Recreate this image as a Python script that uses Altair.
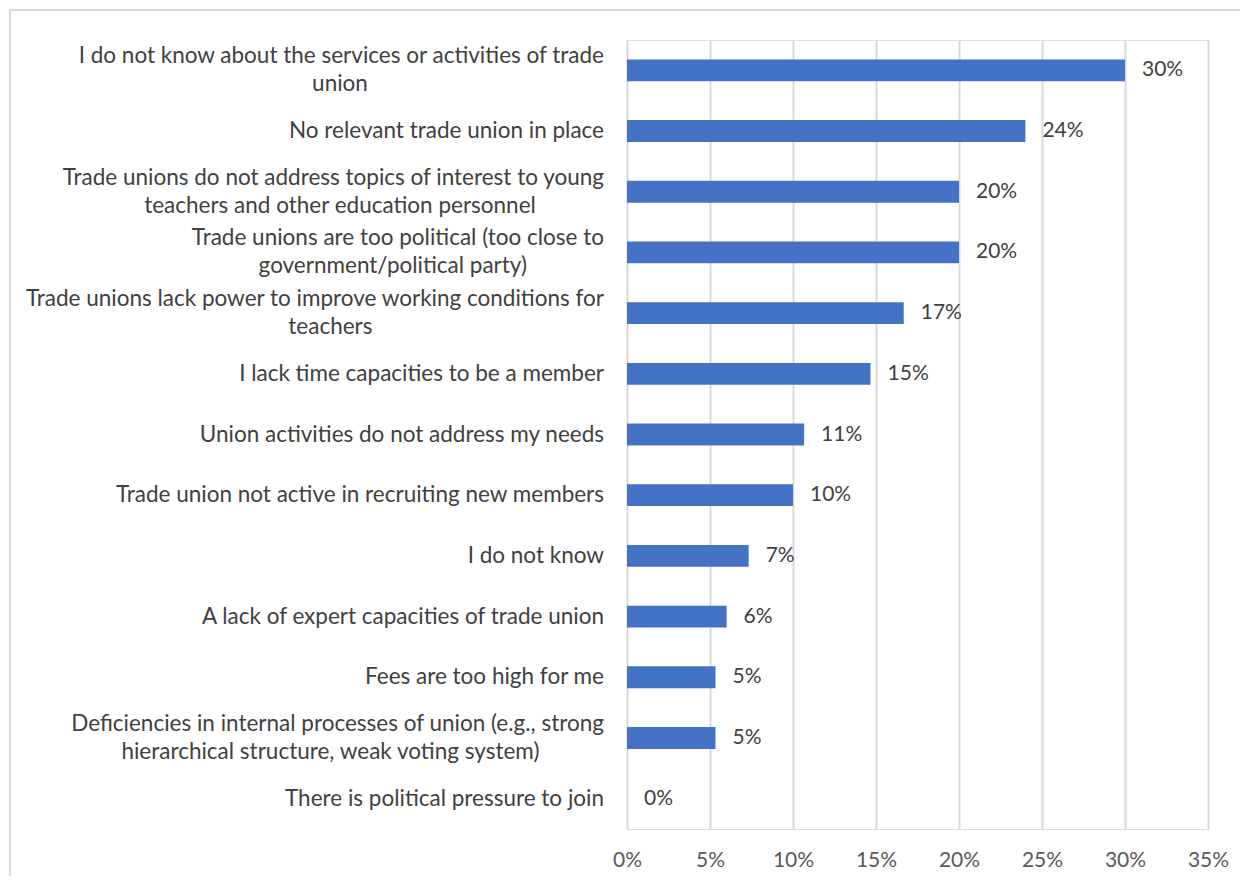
import altair as alt
import pandas as pd

categories = [
    "I do not know about the services or activities of trade|union",
    "No relevant trade union in place",
    "Trade unions do not address topics of interest to young|teachers and other education personnel",
    "Trade unions are too political (too close to|government/political party)",
    "Trade unions lack power to improve working conditions for|teachers",
    "I lack time capacities to be a member",
    "Union activities do not address my needs",
    "Trade union not active in recruiting new members",
    "I do not know",
    "A lack of expert capacities of trade union",
    "Fees are too high for me",
    "Deficiencies in internal processes of union (e.g., strong|hierarchical structure, weak voting system)",
    "There is political pressure to join",
]
values = [30.0, 24.0, 20.0, 20.0, 16.67, 14.67, 10.67, 10.0, 7.33, 6.0, 5.33, 5.33, 0.0]

df = pd.DataFrame({"category": categories, "value": [v / 100 for v in values]})

FONT = "Lato"
BAR = "#4472C4"
LINE_H = 28
LABEL_GAP = 23
CHAR_W = 9.6  # approximate average glyph width used to centre 2nd lines

y_enc = alt.Y(
    "category:N",
    sort=categories,
    scale=alt.Scale(paddingInner=0.64, paddingOuter=0.32),
    axis=None,
)
x_enc = alt.X(
    "value:Q",
    scale=alt.Scale(domain=[0, 0.35], nice=False),
    axis=alt.Axis(
        title=None,
        format=".0%",
        values=[0, 0.05, 0.1, 0.15, 0.2, 0.25, 0.3, 0.35],
        domain=False,
        ticks=False,
        grid=True,
        gridColor="#D9D9D9",
        gridWidth=2,
        labelPadding=20,
        labelFlush=False,
        labelFont=FONT,
        labelFontSize=21,
        labelColor="#595959",
    ),
)

base = alt.Chart(df)

bars = base.mark_bar(color=BAR).encode(y=y_enc, x=x_enc)

values_text = base.mark_text(
    align="left", baseline="middle", dx=17, font=FONT, fontSize=21, color="#404040"
).encode(
    y=alt.Y("category:N", sort=categories),
    x="value:Q",
    text=alt.Text("value:Q", format=".0%"),
)

text_style = dict(baseline="middle", font=FONT, fontSize=22.5, color="#404040")

cat_single = base.transform_filter(
    "indexof(datum.category, '|') < 0"
).mark_text(align="right", **text_style).encode(
    y=alt.Y("category:N", sort=categories),
    x=alt.value(-LABEL_GAP),
    text="category:N",
)

two = base.transform_filter(
    "indexof(datum.category, '|') >= 0"
).transform_calculate(
    line1="split(datum.category, '|')[0]",
    line2="split(datum.category, '|')[1]",
)

cat_line1 = two.mark_text(align="right", dy=-LINE_H / 2, **text_style).encode(
    y=alt.Y("category:N", sort=categories),
    x=alt.value(-LABEL_GAP),
    text="line1:N",
)

cat_line2 = two.transform_calculate(
    cx=f"-{LABEL_GAP} - length(datum.line1) * {CHAR_W} / 2"
).mark_text(align="center", dy=LINE_H / 2, **text_style).encode(
    y=alt.Y("category:N", sort=categories),
    x=alt.X("cx:Q", scale=None),
    text="line2:N",
)

frame = base.mark_rect(
    fill=None, stroke="#D9D9D9", strokeWidth=2
).encode(
    x=alt.value(-617), x2=alt.value(700), y=alt.value(-30), y2=alt.value(900)
)

chart = alt.layer(frame, bars, values_text, cat_single, cat_line1, cat_line2).properties(
    width=581,
    height=789,
    autosize=alt.AutoSizeParams(type="none"),
    padding={"left": 619, "top": 32, "right": 32, "bottom": 47},
).configure_view(stroke=None).configure(background="white")

chart.save("out.html", embed_options={"renderer": "svg", "actions": False})
